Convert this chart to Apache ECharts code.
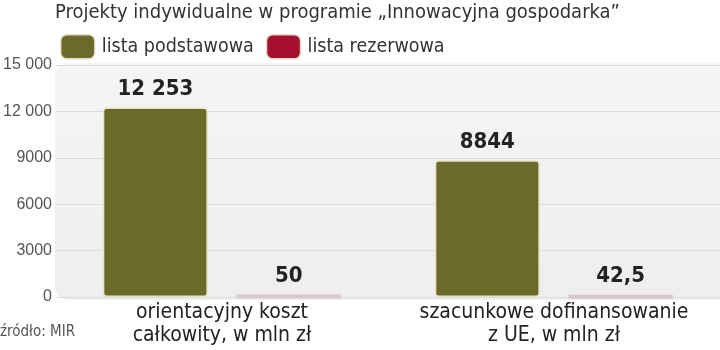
<!DOCTYPE html>
<html>
<head>
<meta charset="utf-8">
<script src="https://cdn.jsdelivr.net/npm/echarts@6/dist/echarts.min.js"></script>
<style>html,body{margin:0;padding:0;background:#fff}#c{width:720px;height:350px}</style>
</head>
<body>
<div id="c"></div>
<script>
const categories = ['orientacyjny koszt\ncałkowity, w mln zł', 'szacunkowe dofinansowanie\nz UE, w mln zł'];
const seriesNames = ['lista podstawowa', 'lista rezerwowa'];
const podstawowa = [12253, 8844];
const rezerwowa = [50, 42.5];
const yTicks = [0, 3000, 6000, 9000, 12000, 15000];
const titleText = 'Projekty indywidualne w programie „Innowacyjna gospodarka”';
const sourceText = 'źródło: MIR';

const NARROW = "'Liberation Sans Narrow', 'DejaVu Sans Condensed', sans-serif";
function fmt(v) {
  let s = String(v).replace('.', ',');
  if (Math.abs(v) >= 10000) {
    const parts = s.split(',');
    parts[0] = parts[0].replace(/\B(?=(\d{3})+(?!\d))/g, ' ');
    s = parts.join(',');
  }
  return s;
}

const chart = echarts.init(document.getElementById('c'));
const barLabel = {
  show: true, position: 'top', distance: 7,
  fontFamily: NARROW, fontWeight: 'bold', fontSize: 22, color: '#222',
  formatter: p => fmt(p.value)
};
chart.setOption({
  animation: false,
  title: {
    text: titleText, left: 55, top: 3, padding: 0,
    textStyle: { fontFamily: NARROW, fontWeight: 'normal', fontSize: 20, color: '#333' }
  },
  legend: {
    data: seriesNames, left: 60, top: 34, padding: 0, itemWidth: 34, itemHeight: 24, itemGap: 12,
    icon: 'roundRect',
    textStyle: { fontFamily: NARROW, fontSize: 19.5, color: '#333', padding: [0, 0, 0, 2] },
    itemStyle: { borderColor: '#e3dcc8', borderWidth: 1.5 }
  },
  graphic: [
    { type: 'rect', shape: { x: 55, y: 63, width: 680, height: 237, r: 14 }, z: -10,
      style: { fill: new echarts.graphic.LinearGradient(0, 0, 0, 1, [
        { offset: 0, color: '#f5f5f6' }, { offset: 1, color: '#eeeef0' }]) } },
    { type: 'text', left: 0, top: 325, z: 10,
      style: { text: sourceText, fontFamily: NARROW, fontSize: 15, fill: '#555' } }
  ],
  grid: { left: 56, right: 0, top: 65, bottom: 53, containLabel: false },
  xAxis: {
    type: 'category', data: categories,
    axisLine: { show: false }, axisTick: { show: false },
    axisLabel: { interval: 0, fontFamily: NARROW, fontSize: 21, color: '#222', lineHeight: 23, margin: 4 }
  },
  yAxis: {
    type: 'value', min: yTicks[0], max: yTicks[yTicks.length - 1], interval: 3000,
    axisLine: { show: false }, axisTick: { show: false },
    axisLabel: { fontFamily: "'Liberation Sans', sans-serif", fontSize: 16, color: '#555', margin: 4,
      formatter: v => fmt(v) },
    splitLine: { lineStyle: { color: '#dcdcde', width: 1 } }
  },
  series: [
    { name: seriesNames[0], type: 'bar', data: podstawowa, barWidth: 105, barGap: '27%',
      itemStyle: { color: '#6b6a29', borderColor: '#e9e2c6', borderWidth: 1.5, borderRadius: 3 },
      label: barLabel },
    { name: seriesNames[1], type: 'bar', data: rezerwowa, barWidth: 105,
      itemStyle: { color: '#a5102c', borderColor: '#d8c8cb', borderWidth: 4, borderRadius: 2 },
      label: barLabel }
  ]
});
</script>
</body>
</html>
